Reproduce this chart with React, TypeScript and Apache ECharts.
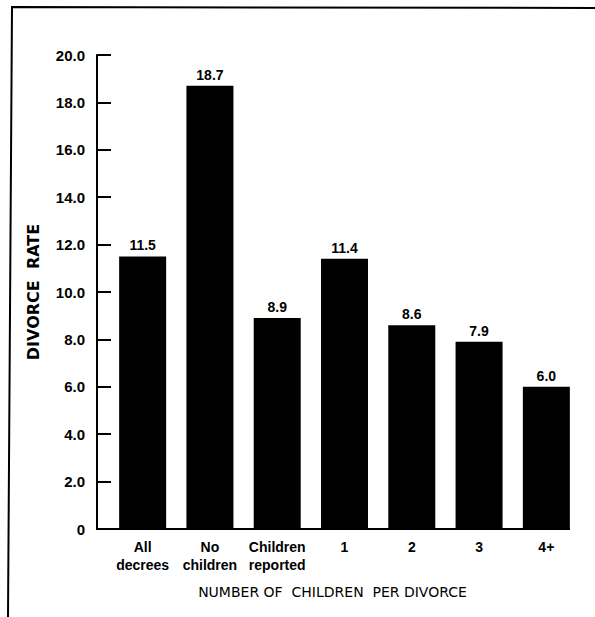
import React, { useEffect, useRef } from "react";
import * as echarts from "echarts";

const categories = ["All\ndecrees", "No\nchildren", "Children\nreported", "1", "2", "3", "4+"];
const divorceRates = [11.5, 18.7, 8.9, 11.4, 8.6, 7.9, 6.0];
const yTicks = { min: 0, max: 20, interval: 2 };
const yAxisTitle = "DIVORCE  RATE";
const xAxisTitle = "NUMBER OF  CHILDREN  PER DIVORCE";

const FONT = "'Liberation Sans', 'DejaVu Sans', sans-serif";
const WIDE = "'DejaVu Sans', 'Liberation Sans', sans-serif";

export default function App() {
  const ref = useRef<HTMLDivElement>(null);
  useEffect(() => {
    document.body.style.margin = "0";
    const chart = echarts.init(ref.current!, undefined, { renderer: "svg" });
    chart.setOption({
      animation: false,
      backgroundColor: "#ffffff",
      grid: { left: 109, right: 15, top: 55, bottom: 88, containLabel: false },
      xAxis: {
        type: "category",
        data: categories,
        boundaryGap: true,
        axisLine: { show: false },
        axisTick: { show: false },
        axisLabel: {
          interval: 0,
          margin: 9,
          color: "#000",
          fontFamily: FONT,
          fontSize: 14,
          fontWeight: "bold",
          lineHeight: 18,
        },
        name: xAxisTitle,
        nameLocation: "middle",
        nameGap: 56,
        nameTextStyle: {
          color: "#000",
          fontFamily: WIDE,
          fontSize: 14,
          padding: [0, 24, 0, 0],
        },
      },
      yAxis: {
        type: "value",
        min: yTicks.min,
        max: yTicks.max,
        interval: yTicks.interval,
        offset: 12,
        splitLine: { show: false },
        axisLine: { show: true, lineStyle: { color: "#000", width: 2 } },
        axisTick: { show: true, inside: true, length: 14, lineStyle: { color: "#000", width: 2 } },
        axisLabel: {
          margin: 12,
          color: "#000",
          fontFamily: FONT,
          fontSize: 15,
          fontWeight: "bold",
          formatter: (v: number) => (v === 0 ? "0" : v.toFixed(1)),
        },
        name: yAxisTitle,
        nameLocation: "middle",
        nameGap: 56,
        nameRotate: 90,
        nameTextStyle: {
          color: "#000",
          fontFamily: WIDE,
          fontSize: 16,
          fontWeight: "bold",
        },
      },
      series: [
        {
          type: "bar",
          data: divorceRates,
          barWidth: 47,
          itemStyle: { color: "#000" },
          label: {
            show: true,
            position: "top",
            distance: 4,
            color: "#000",
            fontFamily: FONT,
            fontSize: 14,
            fontWeight: "bold",
            formatter: (p: any) => Number(p.value).toFixed(1),
          },
        },
      ],
      graphic: [
        {
          type: "polyline",
          shape: { points: [[595, 8], [12, 7], [8, 617]] },
          style: { stroke: "#000", lineWidth: 2, fill: null },
          silent: true,
        },
        {
          type: "line",
          shape: { x1: 96, y1: 529, x2: 570, y2: 529 },
          style: { stroke: "#000", lineWidth: 2 },
          silent: true,
        },
      ],
    });
    return () => chart.dispose();
  }, []);
  return <div ref={ref} style={{ width: 595, height: 617 }} />;
}
